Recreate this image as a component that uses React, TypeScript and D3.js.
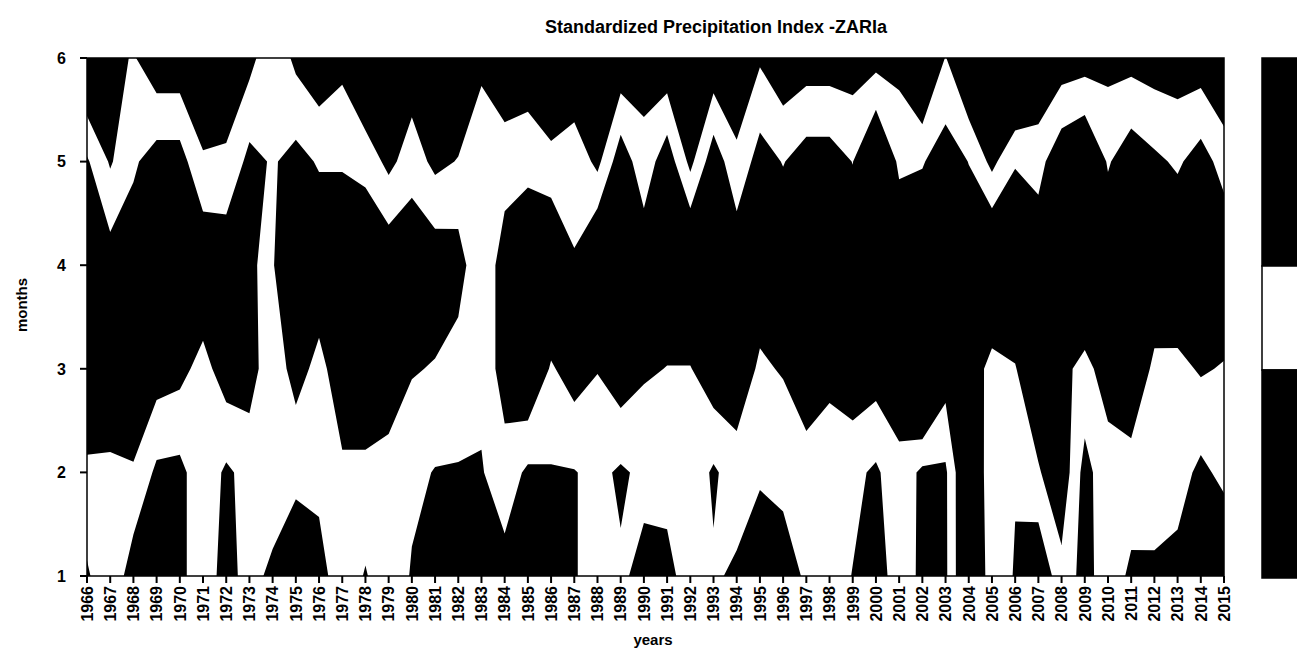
import React from "react";
import * as d3 from "d3";

// Years (x categories) and months (y levels)
const years = [
  1966, 1967, 1968, 1969, 1970, 1971, 1972, 1973, 1974, 1975,
  1976, 1977, 1978, 1979, 1980, 1981, 1982, 1983, 1984, 1985,
  1986, 1987, 1988, 1989, 1990, 1991, 1992, 1993, 1994, 1995,
  1996, 1997, 1998, 1999, 2000, 2001, 2002, 2003, 2004, 2005,
  2006, 2007, 2008, 2009, 2010, 2011, 2012, 2013, 2014, 2015,
];
const monthTicks = [1, 2, 3, 4, 5, 6];

// SPI values, one row per month level, one value per year
const spiMonth1 = [
  1.30, -0.7, 2.22, 2.0, 1.6, -0.4, 2.0, 0, 1.67, 1.4,
  1.93, -0.4, 1.18, -0.5, 1.2, 1.5, 1.5, 1.6, 1.77, 1.8,
  1.8, 1.15, 0.15, 0.74, 1.47, 2.23, -0.9, 0.74, 1.33, 1.98,
  1.33, 0.9, 0.2, 1.06, 1.5, 0.5, 1.2, 1.4, -4, 0.2,
  1.1, 2.95, -0.36, 1.8, -0.2, 1.42, 1.33, 1.65, 2.0, 3.0,
];
const spiMonth2 = [
  -0.69, -0.63, -0.83, 1.41, 1.54, -0.26, 1.34, 0.33, -0.9, 0.86,
  0.3, -0.58, -0.58, -0.12, 0.5, 1.10, 1.11, 1.14, -0.11, 1.38,
  1.15, 1.09, 0.49, 1.30, 0.55, -0.5, -0.3, 1.30, 0, 0.8,
  0.8, 0, 0.62, 0.5, 1.34, -0.36, 1.46, 1.35, -4, 0.6,
  0.91, -0.8, -2.5, 1.82, -0.5, -0.26, 0, 0.2, 1.45, 0.5,
];
const spiMonth3 = [
  -2.5, -2.5, -2.5, -2.04, -1.63, -0.26, -2.11, -2.0, 0.5, -2.0,
  -0.23, -2.5, -2.5, -2.5, -1.17, -0.85, 0.02, 0.5, -2.0, -3.38,
  -0.76, -1.99, -1.08, -2.4, -1.27, -0.95, -0.9, -2.4, -2.5, -0.63,
  -1.2, -2.5, -1.8, -2.5, -2.05, -2.5, -6.2, -2.16, -2.5, -0.22,
  -0.89, -2.8, -1.3, -0.67, -1.52, -2.5, -0.63, -0.45, -1.22, -0.84,
];
const spiMonth4 = [
  -2.5, -2.05, -2.2, -2.5, -2.5, -3.0, -2.73, -1.05, -0.9, -2.5,
  -2.8, -2.8, -3.4, -2.63, -2.86, -2.35, -2.02, 0.9, -2.27, -2.2,
  -3.79, -1.1, -4.14, -2.5, -2.59, -2.5, -4.14, -2.5, -2.63, -2.5,
  -2.9, -2.5, -2.5, -2.62, -2.5, -2.95, -3.0, -2.5, -2.62, -4.14,
  -3.0, -2.49, -2.5, -2.5, -2.8, -2.5, -2.5, -3.2, -2.5, -2.87,
];
const spiMonth5 = [
  -1.26, 1.23, -0.7, -1.93, -1.93, 0.85, 0.8, -1.63, -0.8, -1.67,
  -0.8, -0.8, -0.2, 1.54, 0, 1.5, 0.9, 0, 0.17, -0.6,
  0.5, -0.5, 1.57, -2.3, 0.3, -2.3, 1.57, -2.3, 0.5, -1.89,
  -0.9, -1.98, -1.98, -0.95, -3.78, -0.6, -0.85, -2.07, -0.95, 1.57,
  -0.85, -0.3, -2.52, -3.43, -0.8, -2.28, -1.41, -0.7, -1.9, -0.2,
];
const spiMonth6 = [
  3.87, 1.8, 0.8, 2.51, 2.51, 2.21, 1.91, 1.70, -0.63, 1.5,
  2.6, 1.63, 3.8, 2.0, 2.33, 2.0, 2.9, 1.37, 2.35, 2.73,
  3.0, 3.45, 2.5, 2.7, 1.93, 2.7, 2.5, 2.7, 2.88, 1.28,
  2.62, 2.1, 2.1, 2.1, 1.78, 1.72, 4.29, 0.9, 3.81, 2.5,
  5.3, 3.31, 2.24, 1.98, 1.7, 1.72, 2.04, 2.13, 2.18, 3.33,
];

// contour class limits and their fills (low, normal, high)
const classBreaks = [-1, 1];
const classColors = ["#000000", "#ffffff", "#000000"];

const FONT = "'Liberation Sans', Arial, Helvetica, sans-serif";

export default function App() {
  const width = 1297;
  const height = 650;
  const left = 87, right = 1224, top = 58, bottom = 576;

  const x = d3.scaleLinear().domain([years[0], years[years.length - 1]]).range([left, right]);
  const y = d3.scaleLinear().domain([monthTicks[0], monthTicks[monthTicks.length - 1]]).range([bottom, top]);

  const rows = [spiMonth1, spiMonth2, spiMonth3, spiMonth4, spiMonth5, spiMonth6];
  const grid: number[] = [];
  rows.forEach((r) => r.forEach((v) => grid.push(v)));

  const bands = d3.contours().size([years.length, rows.length]).thresholds(classBreaks)(grid);

  const toPath = (mp: any) =>
    mp.coordinates
      .map((poly: any) =>
        poly
          .map(
            (ring: any) =>
              "M" +
              ring
                .map(
                  ([cx, cy]: [number, number]) =>
                    `${x(years[0] + cx - 0.5).toFixed(2)},${y(monthTicks[0] + cy - 0.5).toFixed(2)}`
                )
                .join("L") +
              "Z"
          )
          .join("")
      )
      .join("");

  const legendX = 1262, legendW = 60;
  const legendY = d3.scaleLinear().domain([0, 1]).range([58, 578]);
  const legendSplits = [0, 0.4, 0.6, 1];
  const legendFills = [classColors[2], classColors[1], classColors[0]];

  return (
    <svg
      width={width}
      height={height}
      style={{ position: "absolute", left: 0, top: 0, background: "#fff" }}
      fontFamily={FONT}
    >
      <rect x={0} y={0} width={width} height={height} fill="#fff" />
      <defs>
        <clipPath id="plotClip">
          <rect x={left} y={top} width={right - left} height={bottom - top} />
        </clipPath>
      </defs>

      <text x={716} y={33} textAnchor="middle" fontWeight="bold" fontSize={18} fill="#000">
        Standardized Precipitation Index -ZARIa
      </text>

      <g clipPath="url(#plotClip)">
        <rect x={left} y={top} width={right - left} height={bottom - top} fill={classColors[0]} />
        {bands.map((b, i) => (
          <path key={i} d={toPath(b)} fill={classColors[i + 1]} fillRule="evenodd" />
        ))}
      </g>
      <rect x={left} y={top} width={right - left} height={bottom - top} fill="none" stroke="#000" strokeWidth={1.5} />

      {monthTicks.map((m) => (
        <g key={m}>
          <line x1={left - 7} x2={left} y1={y(m)} y2={y(m)} stroke="#000" strokeWidth={2} />
          <text x={left - 21} y={y(m)} dy="0.36em" textAnchor="end" fontWeight="bold" fontSize={16}>
            {m}
          </text>
        </g>
      ))}

      {years.map((yr) => (
        <g key={yr}>
          <line x1={x(yr)} x2={x(yr)} y1={bottom} y2={bottom + 7} stroke="#000" strokeWidth={2} />
          <text
            transform={`translate(${x(yr)},${bottom + 10}) rotate(-90)`}
            dy="0.36em"
            textAnchor="end"
            fontWeight="bold"
            fontSize={16}
          >
            {yr}
          </text>
        </g>
      ))}

      <text x={653} y={645} textAnchor="middle" fontWeight="bold" fontSize={15}>
        years
      </text>
      <text transform={`translate(22,${(top + bottom) / 2 - 12}) rotate(-90)`} dy="0.36em" textAnchor="middle" fontWeight="bold" fontSize={15}>
        months
      </text>

      {legendFills.map((c, i) => (
        <rect
          key={i}
          x={legendX}
          y={legendY(legendSplits[i])}
          width={legendW}
          height={legendY(legendSplits[i + 1]) - legendY(legendSplits[i])}
          fill={c}
          stroke="#000"
          strokeWidth={1.5}
        />
      ))}
    </svg>
  );
}
